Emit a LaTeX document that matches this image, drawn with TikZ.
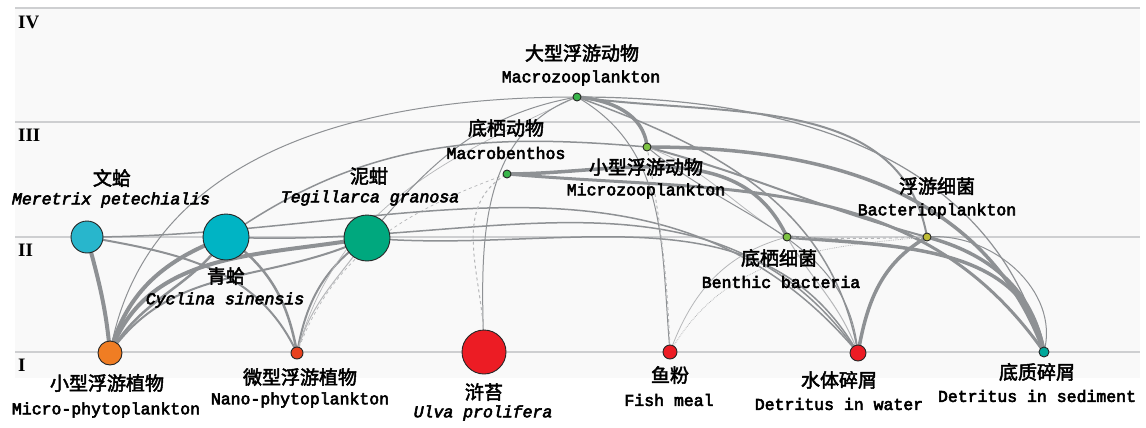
\documentclass[tikz,border=0pt]{standalone}
\usepackage{fontspec}
\setmainfont{Liberation Serif}
\newfontfamily\cjk{Noto Sans CJK SC}[FakeBold = 2.5]
\newfontfamily\mono{Liberation Mono}[FakeBold = 3.5]
\pgfdeclarelayer{bg}
\pgfdeclarelayer{links}
\pgfsetlayers{bg,links,main}
\definecolor{bandgray}{RGB}{249,249,249}
\definecolor{levelgray}{RGB}{206,207,209}
\definecolor{linkgray}{RGB}{142,145,148}
\definecolor{cOrange}{RGB}{240,125,35}
\definecolor{cRed}{RGB}{236,28,36}
\definecolor{cRedOr}{RGB}{232,65,30}
\definecolor{cTeal}{RGB}{0,168,155}
\definecolor{cCyanA}{RGB}{40,182,204}
\definecolor{cCyanB}{RGB}{0,180,196}
\definecolor{cGreenB}{RGB}{0,168,126}
\definecolor{cGreen}{RGB}{57,181,74}
\definecolor{cLime}{RGB}{125,194,66}
\definecolor{cOlive}{RGB}{190,187,53}
\begin{document}
\begin{tikzpicture}[x = 1pt, y = 1pt, line cap = round,
    species/.style = {circle, draw = black!85, line width = 0.9pt, inner sep = 0pt, minimum size = #1},
    zh/.style = {font = \cjk\fontsize{19}{19}\selectfont, inner sep = 0pt},
    en/.style = {font = \mono\fontsize{16.5}{16.5}\selectfont, inner sep = 0pt},
    sp/.style = {font = \mono\itshape\fontsize{16.5}{16.5}\selectfont, inner sep = 0pt},
    link/.style = {draw = linkgray, line width = #1},
    faint/.style = {draw = linkgray!65, line width = #1}]
    %
    \useasboundingbox (0, 0) rectangle (1146, -428);

    % levels
    \begin{pgfonlayer}{bg}
        \fill [bandgray] (15, -8) rectangle (1140, -378);
        \foreach \yy in {-8, -122, -237, -352}
        {
            \draw [levelgray, line width = 1.2pt] (15, \yy) -- (1140, \yy);
        }
    \end{pgfonlayer}
    \foreach \yy/\lvl/\nm in {-22/IV/lvlfour, -135/III/lvlthree, -250/II/lvltwo, -365/I/lvlone}
    {
        \node [anchor = west, inner sep = 0pt, font = \bfseries\fontsize{19}{19}\selectfont] (\nm) at (18, \yy) {\lvl};
    }

    % species
    \node [species = 24pt, fill = cOrange] (mphy) at (110, -353) {};
    \node [species = 12pt, fill = cRedOr]  (nphy) at (297, -353) {};
    \node [species = 44pt, fill = cRed]    (ulva) at (484, -352) {};
    \node [species = 14pt, fill = cRed]    (fish) at (670, -352) {};
    \node [species = 16pt, fill = cRed]    (dwat) at (858, -353) {};
    \node [species = 10pt, fill = cTeal]   (dsed) at (1044, -352) {};
    \node [species = 32pt, fill = cCyanA]  (mere) at (87, -237) {};
    \node [species = 46pt, fill = cCyanB]  (cycl) at (226, -237) {};
    \node [species = 46pt, fill = cGreenB] (tegi) at (367, -238) {};
    \node [species = 8pt, fill = cLime]    (bbac) at (787, -237) {};
    \node [species = 8pt, fill = cOlive]   (bpla) at (927, -237) {};
    \node [species = 8pt, fill = cGreen]   (mben) at (507, -174) {};
    \node [species = 8pt, fill = cLime]    (mizo) at (647, -147) {};
    \node [species = 8pt, fill = cGreen]   (mazo) at (577, -97) {};

    % labels
    \node [zh] (mazo-zh) at (582, -53) {大型浮游动物};
    \node [en] (mazo-en) at (581, -78) {Macrozooplankton};
    \node [zh] (mben-zh) at (506, -128) {底栖动物};
    \node [en] (mben-en) at (506, -153) {Macrobenthos};
    \node [zh] (mizo-zh) at (646, -167) {小型浮游动物};
    \node [en] (mizo-en) at (646, -191) {Microzooplankton};
    \node [zh] (bpla-zh) at (937, -186) {浮游细菌};
    \node [en] (bpla-en) at (937, -211) {Bacterioplankton};
    \node [zh] (mere-zh) at (112, -178) {文蛤};
    \node [sp] (mere-en) at (111, -200) {Meretrix petechialis};
    \node [zh] (tegi-zh) at (369, -176) {泥蚶};
    \node [sp] (tegi-en) at (370, -198) {Tegillarca granosa};
    \node [zh] (cycl-zh) at (226, -276) {青蛤};
    \node [sp] (cycl-en) at (225, -300) {Cyclina sinensis};
    \node [zh] (bbac-zh) at (779, -258) {底栖细菌};
    \node [en] (bbac-en) at (781, -282) {Benthic bacteria};
    \node [zh] (mphy-zh) at (107, -383) {小型浮游植物};
    \node [en] (mphy-en) at (106, -410) {Micro-phytoplankton};
    \node [zh] (nphy-zh) at (300, -377) {微型浮游植物};
    \node [en] (nphy-en) at (300, -400) {Nano-phytoplankton};
    \node [zh] (ulva-zh) at (484, -392) {浒苔};
    \node [sp] (ulva-en) at (483, -413) {Ulva prolifera};
    \node [zh] (fish-zh) at (670, -375) {鱼粉};
    \node [en] (fish-en) at (669, -400) {Fish meal};
    \node [zh] (dwat-zh) at (839, -380) {水体碎屑};
    \node [en] (dwat-en) at (839, -404) {Detritus in water};
    \node [zh] (dsed-zh) at (1037, -372) {底质碎屑};
    \node [en] (dsed-en) at (1037, -396) {Detritus in sediment};

    % flows
    \begin{pgfonlayer}{links}
        % bivalves
        \draw [link = 4]   (mere.center) to[out = -75, in = 95]  (mphy.center);
        \draw [link = 4]   (mphy.center) to[out = 75, in = 200]  (cycl.center);
        \draw [link = 2.5] (mphy.center) to[out = 60, in = 235]  (cycl.center);
        \draw [link = 4]   (mphy.center) to[out = 70, in = 190]  (tegi.center);
        \draw [link = 2]   (mphy.center) to[out = 55, in = 205]  (tegi.center);
        \draw [link = 1]   (mphy.center) to[out = 80, in = 180]  (mazo.center);
        \draw [link = 2]   (mere.center) to[out = -10, in = 115] (nphy.center);
        \draw [link = 2.5] (cycl.center) to[out = -35, in = 100] (nphy.center);
        \draw [link = 2]   (tegi.center) to[out = 215, in = 80]  (nphy.center);
        \draw [faint = 1]  (tegi.center) to[out = 235, in = 75]  (nphy.center);
        \draw [faint = 0.7] (nphy.center) to[out = 75, in = 205] (mazo.center);
        \draw [faint = 0.7, dashed] (nphy.center) to[out = 70, in = 200] (mben.center);
        \draw [link = 1]   (tegi.center) to[out = 50, in = 190]  (mazo.center);
        \draw [link = 1.5] (cycl.center) to[out = 35, in = 175]  (mizo.center);
        \draw [link = 1.5] (mere.center) to[out = 0, in = 130]   (dwat.center);
        \draw [link = 1.5] (cycl.center) to[out = -3, in = 125]  (dwat.center);
        \draw [link = 1.5] (tegi.center) to[out = -5, in = 120]  (dwat.center);
        % ulva, fish meal
        \draw [link = 1]   (ulva.center) to[out = 92, in = 200]  (mazo.center);
        \draw [faint = 1, dashed] (ulva.center) to[out = 88, in = 210] (mben.center);
        \draw [link = 1]   (fish.center) to[out = 95, in = -30]  (mazo.center);
        \draw [faint = 1, dashed] (fish.center) to[out = 92, in = -80] (mizo.center);
        \draw [faint = 0.8] (fish.center) to[out = 70, in = 195] (bbac.center);
        \draw [faint = 0.8, densely dotted] (fish.center) to[out = 60, in = 185] (bpla.center);
        % zooplankton, macrobenthos
        \draw [link = 3.5] (mazo.center) to[out = -5, in = 95]   (mizo.center);
        \draw [link = 2]   (mazo.center) to[out = -8, in = 100]  (bpla.center);
        \draw [link = 1.5] (mazo.center) to[out = -20, in = 100] (dwat.center);
        \draw [link = 1.2] (mazo.center) to[out = 0, in = 105]   (dsed.center);
        \draw [link = 3.5] (mizo.center) to[out = 0, in = 110]   (dsed.center);
        \draw [link = 2]   (mizo.center) to[out = -15, in = 165] (bpla.center);
        \draw [faint = 0.8] (mizo.center) to[out = -20, in = 150] (bbac.center);
        \draw [link = 1]   (mizo.center) to[out = -40, in = 95]  (dwat.center);
        \draw [link = 3.5] (mben.center) to[out = 0, in = 115]   (bbac.center);
        \draw [link = 3]   (mben.center) to[out = -5, in = 125]  (dsed.center);
        % bacteria
        \draw [link = 3.5] (bbac.center) to[out = -5, in = 100]  (dsed.center);
        \draw [faint = 1]  (bbac.center) to[out = -60, in = 110] (dwat.center);
        \draw [faint = 1, dashed] (bbac.center) to[out = -2, in = 182] (bpla.center);
        \draw [link = 3.5] (bpla.center) to[out = 210, in = 80]  (dwat.center);
        \draw [link = 3.5] (bpla.center) to[out = -15, in = 100] (dsed.center);
        \draw [link = 1]   (bpla.center) to[out = 5, in = 75]    (dsed.center);
    \end{pgfonlayer}
\end{tikzpicture}
\end{document}
